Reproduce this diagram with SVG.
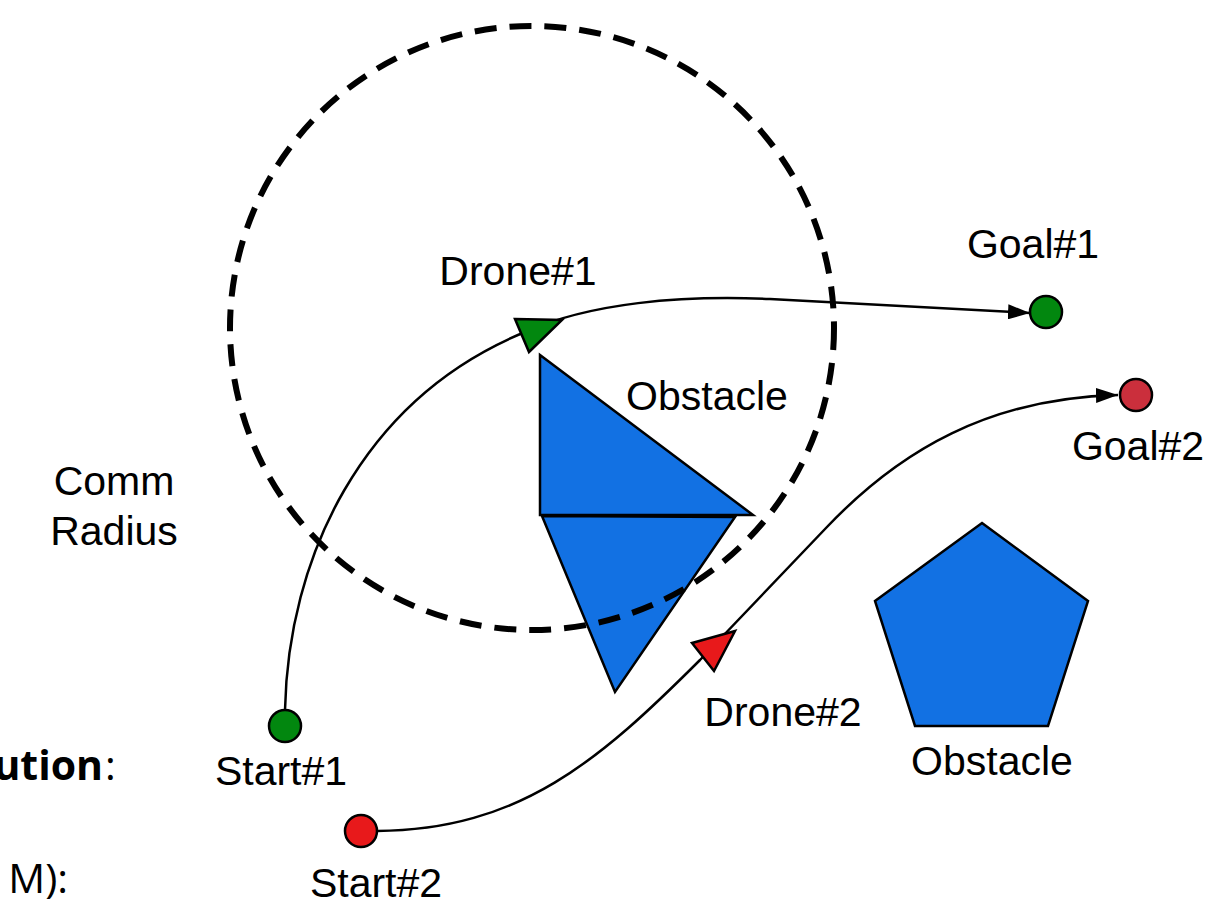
<svg xmlns="http://www.w3.org/2000/svg" width="1222" height="914" viewBox="0 0 1222 914">
  <style>
    .lbl { font-family: "Liberation Sans", Arial, sans-serif; font-size: 41px; fill: #000; text-anchor: middle; }
    .side { font-family: "Open Sans", "Liberation Sans", sans-serif; font-size: 41px; fill: #000; }
    .obst { fill: #1271e3; stroke: #000; stroke-width: 2.5; stroke-linejoin: miter; }
    .edge { fill: none; stroke: #000; stroke-width: 2.5; }
    .node { stroke: #000; stroke-width: 2.5; }
    .green { fill: #02870f; }
    .red { fill: #e8191b; }
    .goalred { fill: #cb2f3c; }
  </style>
  <defs>
    <marker id="arrow" viewBox="0 0 22 15" refX="22" refY="7.5" markerWidth="22" markerHeight="15" markerUnits="userSpaceOnUse" orient="auto">
      <path d="M0,0 L22,7.5 L0,15 Z" fill="#000"/>
    </marker>
  </defs>
  <rect width="1222" height="914" fill="#fff"/>

  <!-- obstacles -->
  <g id="obstacle-triangles">
    <polygon class="obst" points="540,355 540,515 753,515"/>
    <polygon class="obst" points="542,516 735,517 615,692"/>
    <text class="lbl" x="707" y="410">Obstacle</text>
  </g>
  <g id="obstacle-pentagon">
    <polygon class="obst" points="982,523 1088,601 1048,726 915,726 875,601"/>
    <text class="lbl" x="992" y="775">Obstacle</text>
  </g>

  <!-- communication radius, drawn over the obstacles -->
  <g id="comm-radius">
    <circle cx="532" cy="328" r="302" fill="none" stroke="#000" stroke-width="6" stroke-dasharray="22 13"/>
    <text class="lbl" x="114" y="495">Comm</text>
    <text class="lbl" x="114" y="545">Radius</text>
  </g>

  <!-- trajectories -->
  <g id="connectors">
    <path class="edge" d="M285,710 C288,560 360,400 525,332 C590,303 680,295 770,299 L1030,313" marker-end="url(#arrow)"/>
    <path class="edge" d="M377,831 C520,830 600,760 700,660 L826,528 C900,450 990,398 1118,395" marker-end="url(#arrow)"/>
  </g>

  <!-- drones -->
  <g id="drone1">
    <polygon class="node green" points="515,319 562,320 529,352"/>
    <text class="lbl" x="518" y="285">Drone#1</text>
  </g>
  <g id="drone2">
    <polygon class="node red" points="692,643 735,631 714,671"/>
    <text class="lbl" x="783" y="726">Drone#2</text>
  </g>

  <!-- goals -->
  <g id="goal1">
    <circle class="node green" cx="1046" cy="312" r="16"/>
    <text class="lbl" x="1033" y="258">Goal#1</text>
  </g>
  <g id="goal2">
    <circle class="node goalred" cx="1136" cy="395" r="16"/>
    <text class="lbl" x="1138" y="460">Goal#2</text>
  </g>

  <!-- starts -->
  <g id="start1">
    <circle class="node green" cx="285" cy="726" r="16"/>
    <text class="lbl" x="281" y="785">Start#1</text>
  </g>
  <g id="start2">
    <circle class="node red" cx="361" cy="831" r="16"/>
    <text class="lbl" x="376" y="897">Start#2</text>
  </g>

  <!-- side captions (partly beyond the left edge) -->
  <g id="captions">
    <text class="side" x="103" y="780" text-anchor="end" font-weight="bold">ution</text>
    <text class="side" x="105" y="780">:</text>
    <text class="side" x="68" y="893" text-anchor="end" font-size="44">M):</text>
  </g>
</svg>
